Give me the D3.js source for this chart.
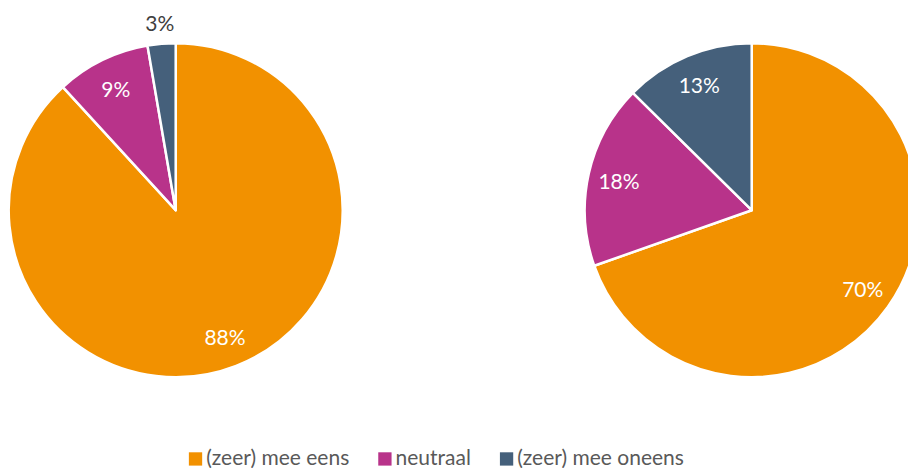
<!DOCTYPE html>
<html>
<head>
<meta charset="utf-8">
<script src="https://cdn.jsdelivr.net/npm/d3@7"></script>
<style>
  body { margin: 0; background: #fff; }
  svg { display: block; font-family: "Lato", "Open Sans", sans-serif; }
</style>
</head>
<body>
<svg id="chart" width="908" height="468"></svg>
<script>
// categories and colours
const categories = ["(zeer) mee eens", "neutraal", "(zeer) mee oneens"];
const colors = ["#F29100", "#B8338A", "#45607B"];

// percentages per pie
const leftValues = [88.2, 9.1, 2.7];
const rightValues = [69.6, 17.8, 12.6];

const width = 908;
const height = 468;
const radius = 167;

const svg = d3.select("#chart");

const pie = d3.pie().value(d => d).sort(null);
const arc = d3.arc().innerRadius(0).outerRadius(radius);
const labelArc = d3.arc().innerRadius(136).outerRadius(136);
const outerLabelArc = d3.arc().innerRadius(radius + 21).outerRadius(radius + 21);
const fmt = d3.format(".0f");

const drawPie = (values, cx, cy) => {
    const g = svg.append("g").attr("transform", `translate(${cx},${cy})`);
    const data = pie(values);

    g.selectAll("path.arc")
        .data(data)
        .enter()
        .append("path")
        .attr("class", "arc")
        .attr("d", arc)
        .attr("fill", (d, i) => colors[i])
        .attr("stroke", "#fff")
        .attr("stroke-width", 2.5)
        .attr("stroke-linejoin", "round");

    // small slices get their label outside the pie
    g.selectAll("text.label")
        .data(data)
        .enter()
        .append("text")
        .attr("class", "label")
        .attr("text-anchor", "middle")
        .attr("dominant-baseline", "central")
        .attr("transform", d => {
            const c = d.value < 5 ? outerLabelArc.centroid(d) : labelArc.centroid(d);
            return `translate(${c})`;
        })
        .style("fill", d => d.value < 5 ? "#404040" : "#fff")
        .style("font-size", "21px")
        .text(d => fmt(d.value) + "%");
};

drawPie(leftValues, 175.7, 210.2);
drawPie(rightValues, 751.7, 210.2);

// legend
const legend = svg.append("g").attr("class", "legend");
const sw = 13.3;
const items = legend.selectAll("g.item")
    .data(categories)
    .enter()
    .append("g")
    .attr("class", "item");

items.append("rect")
    .attr("width", sw)
    .attr("height", sw)
    .attr("y", 452.3)
    .attr("fill", (d, i) => colors[i]);

items.append("text")
    .attr("y", 465)
    .style("font-size", "21px")
    .style("fill", "#595959")
    .text(d => d);

// lay out items one after another and center the whole row
let x = 0;
const positions = [];
items.each(function () {
    const w = d3.select(this).select("text").node().getComputedTextLength();
    positions.push(x);
    x += sw + 4 + w + 29;
});
const total = x - 29;
const start = 436.4 - total / 2;
items.each(function (d, i) {
    const item = d3.select(this);
    item.select("rect").attr("x", start + positions[i]);
    item.select("text").attr("x", start + positions[i] + sw + 4);
});
</script>
</body>
</html>
